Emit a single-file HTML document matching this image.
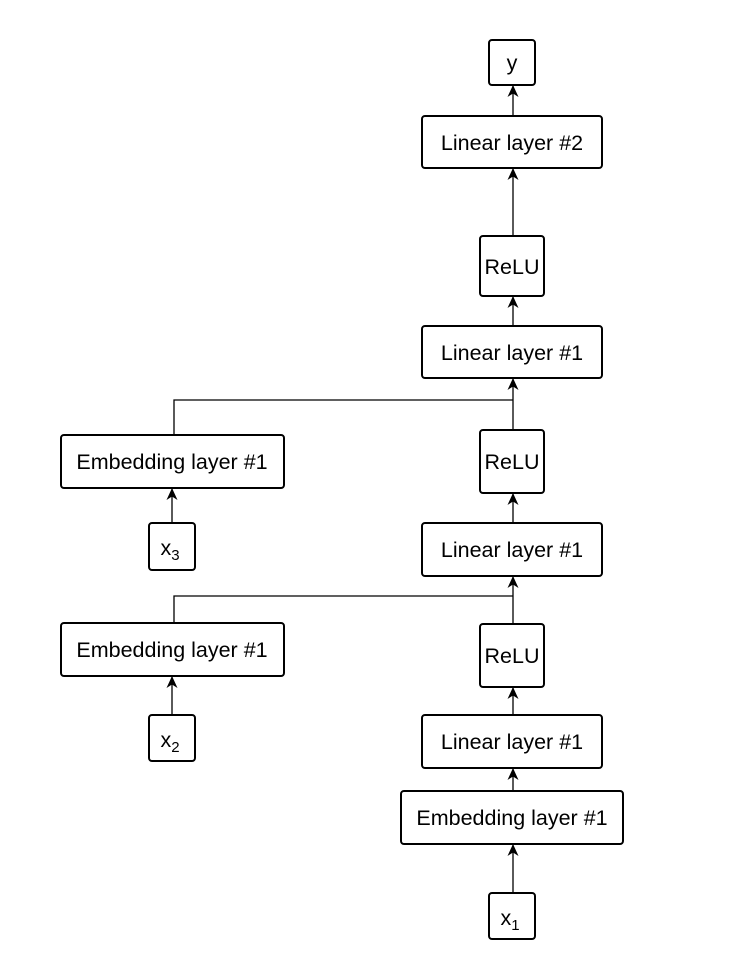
<!DOCTYPE html>
<html><head><meta charset="utf-8"><style>
html,body{margin:0;padding:0;background:#fff;}
svg{display:block;}
text{font-family:"Liberation Sans",Arial,sans-serif;font-size:21.5px;fill:#000;}
</style></head><body>
<svg width="753" height="957" viewBox="0 0 753 957" xmlns="http://www.w3.org/2000/svg">
<defs>
<marker id="a" markerWidth="12" markerHeight="12" refX="11" refY="6" orient="auto" markerUnits="userSpaceOnUse">
<path d="M0,0.5 L12,6 L0,11.5 L3.5,6 Z" fill="#000"/>
</marker>
</defs>
<g fill="#fff" stroke="#000" stroke-width="2">
<rect x="489" y="40" width="46" height="45" rx="3"/>
<rect x="422" y="116" width="180" height="52" rx="3"/>
<rect x="480" y="236" width="64" height="60" rx="3"/>
<rect x="422" y="326" width="180" height="52" rx="3"/>
<rect x="61" y="435" width="223" height="53" rx="3"/>
<rect x="149" y="523" width="46" height="47" rx="3"/>
<rect x="480" y="430" width="64" height="63" rx="3"/>
<rect x="422" y="523" width="180" height="53" rx="3"/>
<rect x="61" y="623" width="223" height="53" rx="3"/>
<rect x="149" y="715" width="46" height="46" rx="3"/>
<rect x="480" y="624" width="64" height="63" rx="3"/>
<rect x="422" y="715" width="180" height="53" rx="3"/>
<rect x="401" y="791" width="222" height="53" rx="3"/>
<rect x="489" y="893" width="46" height="46" rx="3"/>
</g>
<g stroke="#000" stroke-width="1.3" fill="none">
<line x1="513" y1="116" x2="513" y2="86" marker-end="url(#a)"/>
<line x1="513" y1="236" x2="513" y2="169" marker-end="url(#a)"/>
<line x1="513" y1="326" x2="513" y2="297" marker-end="url(#a)"/>
<line x1="513" y1="430" x2="513" y2="379" marker-end="url(#a)"/>
<polyline points="174,435 174,400 513,400"/>
<line x1="513" y1="523" x2="513" y2="494" marker-end="url(#a)"/>
<line x1="513" y1="624" x2="513" y2="577" marker-end="url(#a)"/>
<polyline points="174,623 174,596 513,596"/>
<line x1="513" y1="715" x2="513" y2="688" marker-end="url(#a)"/>
<line x1="513" y1="791" x2="513" y2="769" marker-end="url(#a)"/>
<line x1="513" y1="893" x2="513" y2="845" marker-end="url(#a)"/>
<line x1="172" y1="523" x2="172" y2="489" marker-end="url(#a)"/>
<line x1="172" y1="715" x2="172" y2="677" marker-end="url(#a)"/>
</g>
<g text-anchor="middle">
<text x="512" y="70">y</text>
<text x="512" y="150">Linear layer #2</text>
<text x="512" y="274">ReLU</text>
<text x="512" y="360">Linear layer #1</text>
<text x="172" y="469">Embedding layer #1</text>
<text x="512" y="469">ReLU</text>
<text x="512" y="557">Linear layer #1</text>
<text x="172" y="657">Embedding layer #1</text>
<text x="512" y="663">ReLU</text>
<text x="512" y="749">Linear layer #1</text>
<text x="512" y="825">Embedding layer #1</text>
<text x="170" y="555">x<tspan font-size="15" dy="5">3</tspan></text>
<text x="170" y="747">x<tspan font-size="15" dy="5">2</tspan></text>
<text x="510" y="925">x<tspan font-size="15" dy="5">1</tspan></text>
</g>
</svg>
</body></html>
